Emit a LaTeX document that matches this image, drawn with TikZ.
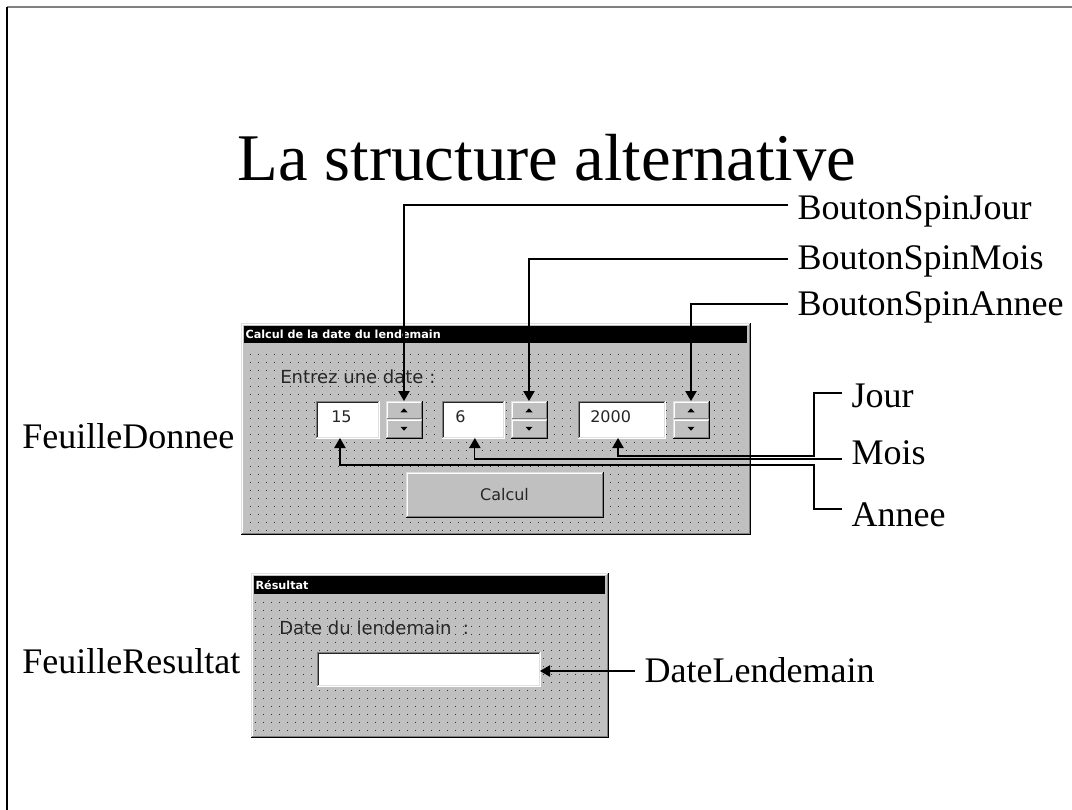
\documentclass[tikz,border=0pt]{standalone}
\usepackage{fontspec}
\setmainfont{Liberation Serif}
\newfontfamily\uifont{DejaVu Sans}
\usetikzlibrary{arrows.meta,calc}

\definecolor{winface}{HTML}{C0C0C0}
\definecolor{winshadow}{HTML}{808080}
\definecolor{winlight}{HTML}{DFDFDF}

% raised 3D border (buttons, windows)
\newcommand\bevelup[1]{%
  \draw[bevel, winlight] (#1.south west) |- (#1.north east);
  \draw[bevel, black] (#1.south west) -| (#1.north east);
  \draw[bevel, white] ([shift={(1,-1)}]#1.south west) |- ([shift={(-1,1)}]#1.north east);
  \draw[bevel, winshadow] ([shift={(1,-1)}]#1.south west) -| ([shift={(-1,1)}]#1.north east);
}
% sunken 3D border (edit fields)
\newcommand\beveldown[1]{%
  \draw[bevel, winshadow] (#1.south west) |- (#1.north east);
  \draw[bevel, white] (#1.south west) -| (#1.north east);
  \draw[bevel, black!85] ([shift={(1,-1)}]#1.south west) |- ([shift={(-1,1)}]#1.north east);
  \draw[bevel, winlight] ([shift={(1,-1)}]#1.south west) -| ([shift={(-1,1)}]#1.north east);
}
% spin arrows
\newcommand\uptri[1]{\fill ($(#1.center)+(-3.5,2)$) -- ++(7,0) -- ++(-3.5,-4) -- cycle;}
\newcommand\downtri[1]{\fill ($(#1.center)+(-3.5,-2)$) -- ++(7,0) -- ++(-3.5,4) -- cycle;}

\begin{document}
\begin{tikzpicture}[x=0.75pt,y=-0.75pt,
  bevel/.style={line width=0.75pt},
  ctrl/.style={inner sep=0pt, outer sep=0pt, fill=winface},
  editbox/.style={inner sep=0pt, outer sep=0pt, fill=white},
  capbar/.style={inner sep=0pt, outer sep=0pt, fill=black},
  captext/.style={white, inner sep=1pt, anchor=west, font=\uifont\bfseries\fontsize{8.4}{10}\selectfont},
  uitext/.style={inner sep=0pt, font=\uifont\fontsize{13.5}{16}\selectfont, text=black!85},
  fieldtext/.style={inner sep=0pt, font=\uifont\fontsize{12}{14}\selectfont, text=black!85},
  lbl/.style={anchor=west, inner xsep=7pt, inner ysep=0pt, text height=17.9pt, text depth=0pt,
              font=\fontsize{27}{32}\selectfont},
  arr/.style={draw, line width=0.9pt, -{Triangle[length=7.5pt,width=8.5pt]}},
  griddot/.style={fill=black!80}]
\useasboundingbox (0,0) rectangle (1072,810);

% page frame
\draw[winshadow, line width=1pt] (7,7) -- (1072,7);
\draw[black, line width=1pt] (7,7) -- (7,810);

% title
\node[font=\fontsize{50}{60}\selectfont, anchor=base, inner sep=0pt] (title) at (547,180) {La structure alternative};

% ---------- input window ----------
\node[ctrl, minimum width=381.75pt, minimum height=158.25pt] (dlg1) at (495.5,428.5) {};
\bevelup{dlg1}
\node[capbar, minimum width=377.25pt, minimum height=12.75pt] (bar1) at (495.5,334.5) {};
\node[captext] (cap1) at (bar1.west) {Calcul de la date du lendemain};
\foreach \i in {0,...,61}
  \foreach \j in {0,...,22}
    \fill[griddot] (250+8*\i,354+8*\j) rectangle ++(1,1);

\node[uitext, anchor=west] (prompt1) at (280,377) {Entrez une date :};

\node[editbox, minimum width=47.25pt, minimum height=27.75pt] (box15) at (347.5,419.5) {};
\beveldown{box15}
\node[fieldtext, anchor=west] (txt15) at (331,417) {15};

\node[editbox, minimum width=46.5pt, minimum height=27.75pt] (box6) at (473,419.5) {};
\beveldown{box6}
\node[fieldtext, anchor=west] (txt6) at (455,417) {6};

\node[editbox, minimum width=65.25pt, minimum height=27.75pt] (box2000) at (621.5,419.5) {};
\beveldown{box2000}
\node[fieldtext, anchor=west] (txt2000) at (590,417) {2000};

% spin buttons
\foreach \n/\x in {spinJ/404, spinM/529, spinA/691} {
  \node[ctrl, minimum width=27pt, minimum height=13.875pt] (\n u) at (\x,410.25) {};
  \node[ctrl, minimum width=27pt, minimum height=13.875pt] (\n d) at (\x,428.75) {};
  \bevelup{\n u}
  \bevelup{\n d}
  \uptri{\n u}
  \downtri{\n d}
}

\node[ctrl, minimum width=147.75pt, minimum height=33.75pt] (btn) at (504.5,494.5) {};
\bevelup{btn}
\node[fieldtext] (btntxt) at (btn.center) {Calcul};

% ---------- result window ----------
\node[ctrl, minimum width=267.75pt, minimum height=123pt] (dlg2) at (429.5,655) {};
\bevelup{dlg2}
\node[capbar, minimum width=263.25pt, minimum height=13.5pt] (bar2) at (429.5,585) {};
\node[captext] (cap2) at (bar2.west) {Résultat};
\foreach \i in {0,...,43}
  \foreach \j in {0,...,16}
    \fill[griddot] (255+8*\i,602+8*\j) rectangle ++(1,1);

\node[uitext, anchor=west] (prompt2) at (279,628) {Date du lendemain~ :};
\node[editbox, minimum width=167.25pt, minimum height=25.5pt] (resbox) at (428.5,669) {};
\beveldown{resbox}

% ---------- labels ----------
\node[lbl] (lblSJ) at (788,208) {BoutonSpinJour};
\node[lbl] (lblSM) at (788,258) {BoutonSpinMois};
\node[lbl] (lblSA) at (788,304) {BoutonSpinAnnee};
\node[lbl] (lblJour) at (842,396) {Jour};
\node[lbl] (lblMois) at (842,453) {Mois};
\node[lbl] (lblAnnee) at (842,515) {Annee};
\node[lbl] (lblFD) at (12.7,437) {FeuilleDonnee};
\node[lbl] (lblFR) at (12.7,662) {FeuilleResultat};
\node[lbl] (lblDL) at (635,671) {DateLendemain};

% ---------- connectors ----------
\coordinate (p15) at ($(box15.south west)!0.38!(box15.south east)$);
\coordinate (p6) at ($(box6.south west)!0.53!(box6.south east)$);
\coordinate (p2000) at ($(box2000.south west)!0.46!(box2000.south east)$);
\coordinate (jbend) at (814,456);
\coordinate (abend) at (814,465);

\draw[arr] ([shift={(0,-3)}]lblSJ.west) -| (spinJu.north);
\draw[arr] ([shift={(0,1)}]lblSM.west) -| (spinMu.north);
\draw[arr] (lblSA.west) -| (spinAu.north);
\draw[arr] ([shift={(0,-3)}]lblJour.west) -| (jbend) -| (p2000);
\draw[arr] ([shift={(0,6)}]lblMois.west) -| (p6);
\draw[arr] ([shift={(0,-6)}]lblAnnee.west) -| (abend) -| (p15);
\draw[arr] (lblDL.west) -- (lblDL.west -| resbox.east);
\end{tikzpicture}
\end{document}
